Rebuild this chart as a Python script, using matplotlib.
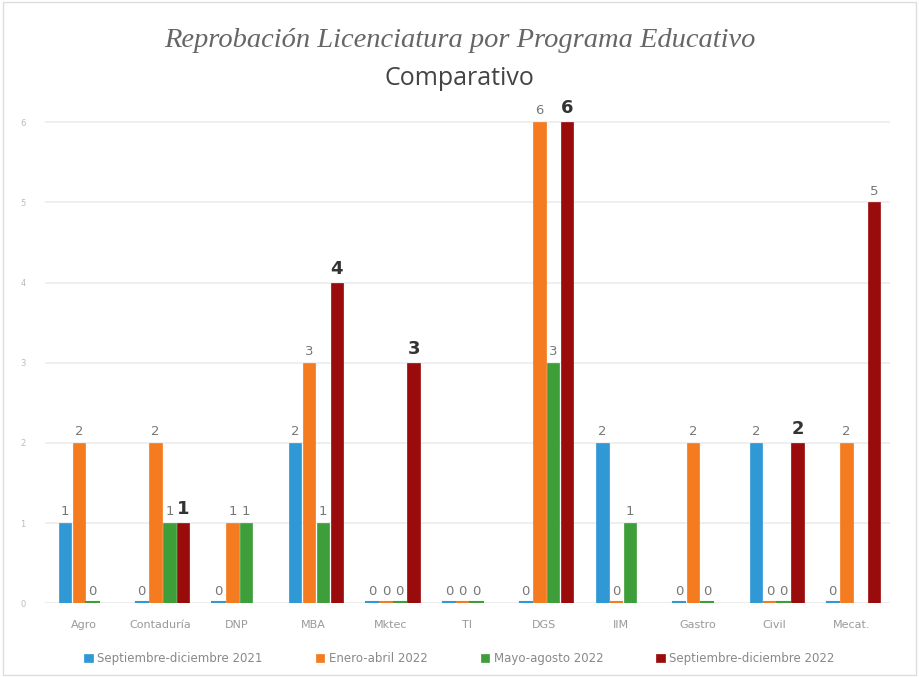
import numpy as np
import matplotlib
matplotlib.use("Agg")
import matplotlib.pyplot as plt

categories = ["Agro", "Contaduría", "DNP", "MBA", "Mktec", "TI", "DGS", "IIM", "Gastro", "Civil", "Mecat."]
series_names = ["Septiembre-diciembre 2021", "Enero-abril 2022", "Mayo-agosto 2022", "Septiembre-diciembre 2022"]
sep_dic_2021 = [1, 0, 0, 2, 0, 0, 0, 2, 0, 2, 0]
ene_abr_2022 = [2, 2, 1, 3, 0, 0, 6, 0, 2, 0, 2]
may_ago_2022 = [0, 1, 1, 1, 0, 0, 3, 1, 0, 0, np.nan]
sep_dic_2022 = [np.nan, 1, np.nan, 4, 3, np.nan, 6, np.nan, np.nan, 2, 5]
y_ticks = [0, 1, 2, 3, 4, 5, 6]

series = [sep_dic_2021, ene_abr_2022, may_ago_2022, sep_dic_2022]
colors = ["#2F98D5", "#F47B20", "#3E9E3A", "#9A0B0B"]

fig = plt.figure(figsize=(9.19, 6.77), dpi=100)
fig.patch.set_facecolor("white")
ax = fig.add_axes([0.049, 0.109, 0.919, 0.746])

x = np.arange(len(categories))
w = 0.16
step = 0.18
for i, (vals, col) in enumerate(zip(series, colors)):
    vals = np.array(vals, dtype=float)
    off = (i - 1.5) * step + 0.03
    mask = ~np.isnan(vals)
    xs = x[mask] + off
    vs = vals[mask]
    ax.bar(xs, vs, width=w, color=col, edgecolor=col, linewidth=0.5, zorder=3,
           label=series_names[i])
    for xi, v in zip(xs, vs):
        if v == 0:
            ax.plot([xi - w / 2, xi + w / 2], [0.02, 0.02], color=col, lw=1.5, zorder=3)
    for xi, v in zip(xs, vs):
        if i == 3 and v != 5:
            ax.text(xi, v + 0.06, f"{int(v)}", ha="center", va="bottom", fontsize=13,
                    fontweight="bold", color="#333333", zorder=4)
        else:
            ax.text(xi, v + 0.06, f"{int(v)}", ha="center", va="bottom", fontsize=9.5,
                    color="#777777", zorder=4)

ax.set_xlim(-0.5, len(categories) - 0.5)
ax.set_ylim(0, 6.3)
ax.set_yticks(y_ticks)
ax.set_yticklabels([str(t) for t in y_ticks], fontsize=6, color="#bbbbbb")
ax.set_xticks(x)
ax.set_xticklabels(categories, fontsize=8, color="#999999")
ax.tick_params(length=0, pad=12)
ax.tick_params(axis="y", pad=14)
ax.grid(axis="y", color="#ececec", lw=1.2, zorder=0)
for s in ax.spines.values():
    s.set_visible(False)
ax.axhline(0, color="#e0e0e0", lw=1, zorder=2)

fig.text(0.5, 0.94, "Reprobación Licenciatura por Programa Educativo", ha="center", va="center",
         fontsize=20.5, style="italic", family="Liberation Serif", color="#666666")
fig.text(0.5, 0.884, "Comparativo", ha="center", va="center", fontsize=18,
         family="Open Sans", color="#444444")

leg = fig.legend(loc="center", bbox_to_anchor=(0.5, 0.027), ncol=4, frameon=False,
                 fontsize=8.5, handlelength=0.7, handleheight=0.7, columnspacing=4.5,
                 handletextpad=0.4)
for t in leg.get_texts():
    t.set_color("#888888")

fig.add_artist(plt.Rectangle((0.003, 0.003), 0.994, 0.994, transform=fig.transFigure,
                             fill=False, edgecolor="#dddddd", lw=1))

fig.savefig("out.png", dpi=100, facecolor="white")
